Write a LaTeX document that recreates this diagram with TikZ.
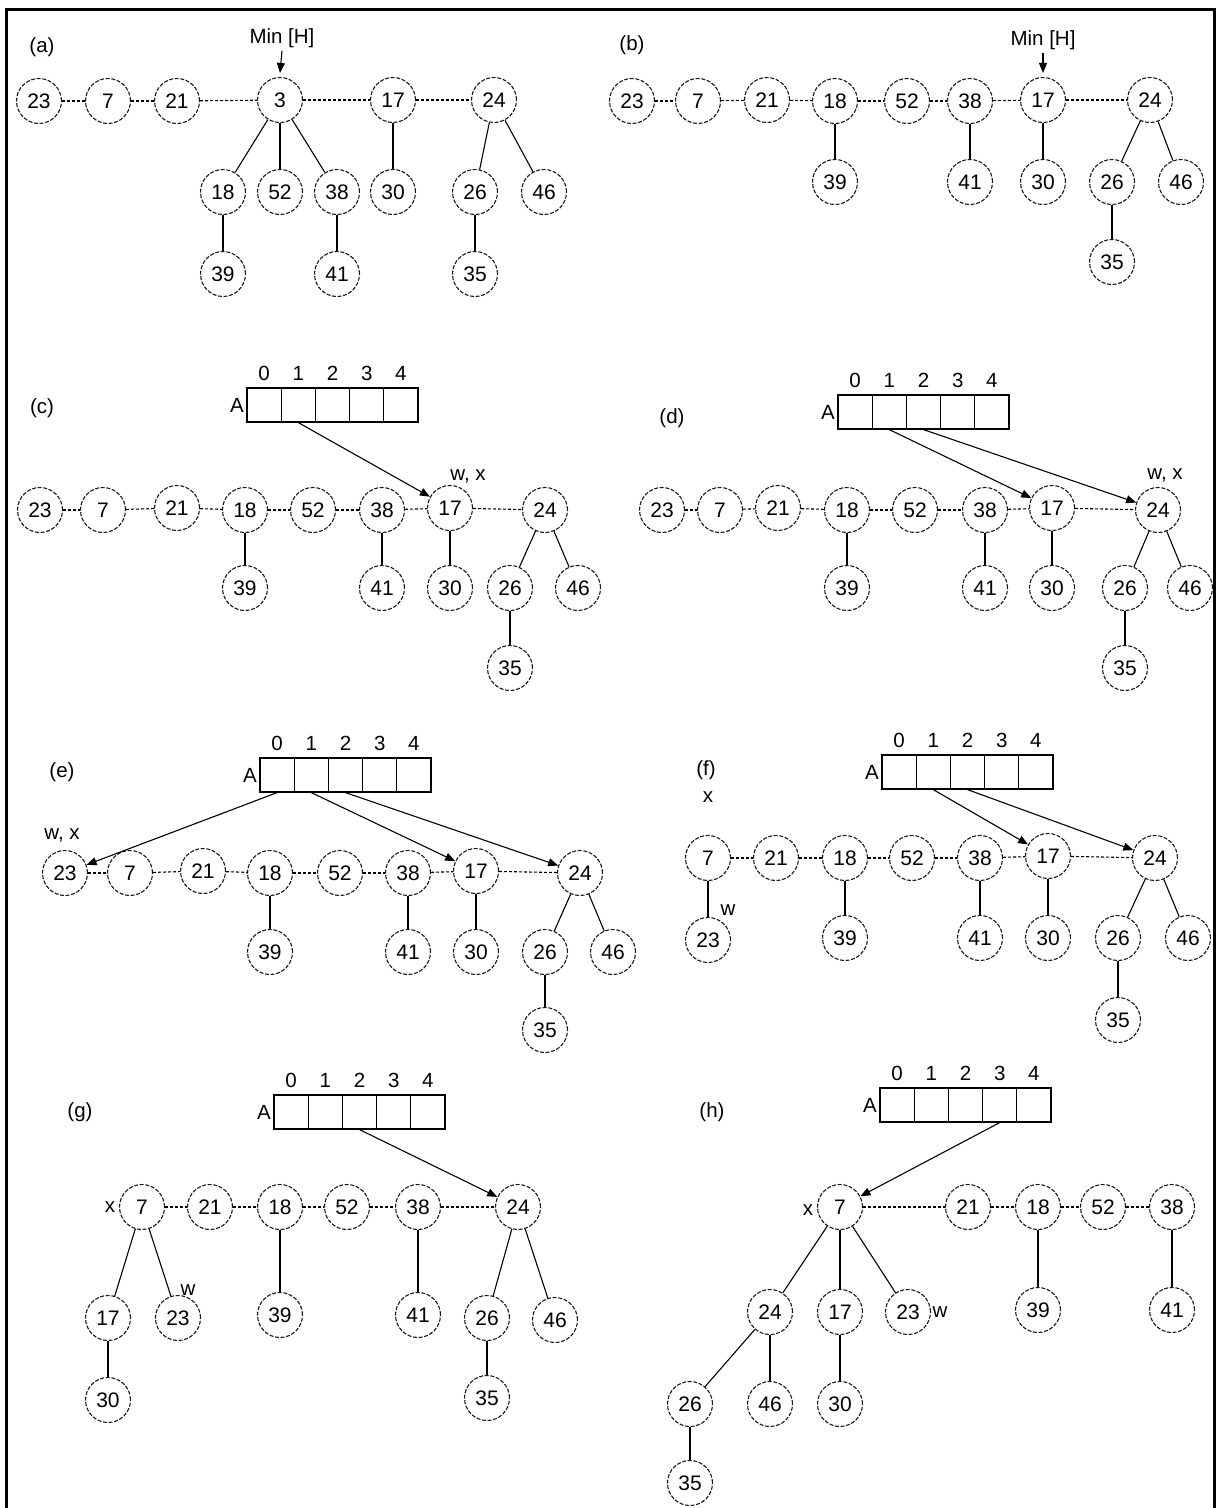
\documentclass[tikz,border=0pt]{standalone}
\usepackage{fontspec}
\setmainfont{Liberation Sans}
\usetikzlibrary{arrows.meta}
\newcommand\ArrayA[3]{% #1 prefix, #2 left x, #3 top y
  \node[txt,anchor=east] (#1A) at ({#2-3},{#3+17}) {A};
  \foreach \i in {0,...,4}{
    \node[cell] (#1c\i) at ({#2+17.1+34.2*\i},{#3+17}) {};
    \node[txt] (#1i\i) at ({#2+17.1+34.2*\i},{#3-15}) {\i};
  }}
\begin{document}
\begin{tikzpicture}[x=1pt,y=-1pt,
  nd/.style={circle,draw=black!90,line width=1.1pt,dash pattern=on 4pt off 1.6pt,minimum size=45pt,inner sep=0pt,font=\fontsize{21}{21}\selectfont},
  cell/.style={rectangle,draw,line width=1.2pt,minimum width=34.2pt,minimum height=34pt,inner sep=0pt},
  txt/.style={inner sep=0pt,font=\fontsize{20.5}{20.5}\selectfont},
  link/.style={dash pattern=on 3pt off 2pt,line width=1.1pt},
  edge/.style={line width=1.1pt},
  ptr/.style={line width=1.1pt,-{Triangle[length=10pt,width=8pt]}},
]
\useasboundingbox (0,0) rectangle (1216,1508);
\fill[white] (0,0) rectangle (1216,1508);
\draw[line width=3pt] (6,1510) -- (6,9) -- (1214,9) -- (1214,1510);

% ---------- (a)
\node[txt] (la) at (42,47) {(a)};
\node[txt] (amin) at (282,38) {Min [H]};
\foreach \n/\x/\y in {23/39/101,7/108/101,21/177/101,3/280/100,17/393/100,24/494/100,
  18/223/192,52/280/192,38/337/192,30/393/192,26/475/192,46/544/192,39/223/274,41/337/274,35/475/274}
  \node[nd] (a\n) at (\x,\y) {\n};
\draw[ptr] ([yshift=-3pt]amin.south) -- ([yshift=4pt]a3.north);
\draw[link] (a23) -- (a7); \draw[link] (a7) -- (a21); \draw[link] (a21) -- (a3);
\draw[link] (a3) -- (a17); \draw[link] (a17) -- (a24);
\foreach \p/\c in {3/18,3/52,3/38,17/30,24/26,24/46,18/39,38/41,26/35}
  \draw[edge] (a\p) -- (a\c);

% ---------- (b)
\node[txt] (lb) at (632,45) {(b)};
\node[txt] (bmin) at (1043,40) {Min [H]};
\foreach \n/\x/\y in {23/632/101,7/698/101,21/767/100,18/835/101,52/907/101,38/970/101,17/1043/100,24/1150/100,
  39/835/182,41/970/182,30/1043/182,26/1112/182,46/1181/182,35/1112/262}
  \node[nd] (b\n) at (\x,\y) {\n};
\draw[ptr] ([yshift=-3pt]bmin.south) -- ([yshift=4pt]b17.north);
\foreach \p/\c in {23/7,7/21,21/18,18/52,52/38,38/17,17/24}
  \draw[link] (b\p) -- (b\c);
\foreach \p/\c in {18/39,38/41,17/30,24/26,24/46,26/35}
  \draw[edge] (b\p) -- (b\c);

% ---------- (c)
\node[txt] (lc) at (42,408) {(c)};
\ArrayA{c}{247}{388}
\foreach \n/\x/\y in {23/40/510,7/103/510,21/177/508,18/245/510,52/313/510,38/382/510,17/450/508,24/545/510,
  39/245/588,41/382/588,30/450/588,26/510/588,46/578/588,35/510/668}
  \node[nd] (c\n) at (\x,\y) {\n};
\node[txt] (cwx) at (468,476) {w, x};
\foreach \p/\c in {23/7,7/21,21/18,18/52,52/38,38/17,17/24}
  \draw[link] (c\p) -- (c\c);
\foreach \p/\c in {18/39,38/41,17/30,24/26,24/46,26/35}
  \draw[edge] (c\p) -- (c\c);
\draw[ptr] (cc1.south) -- (c17);

% ---------- (d)
\node[txt] (ld) at (672,418) {(d)};
\ArrayA{d}{838}{395}
\foreach \n/\x/\y in {23/662/510,7/720/510,21/778/508,18/847/510,52/915/510,38/985/510,17/1052/508,24/1158/510,
  39/847/588,41/985/588,30/1052/588,26/1125/588,46/1190/588,35/1125/668}
  \node[nd] (d\n) at (\x,\y) {\n};
\node[txt] (dwx) at (1165,475) {w, x};
\foreach \p/\c in {23/7,7/21,21/18,18/52,52/38,38/17,17/24}
  \draw[link] (d\p) -- (d\c);
\foreach \p/\c in {18/39,38/41,17/30,24/26,24/46,26/35}
  \draw[edge] (d\p) -- (d\c);
\draw[ptr] (dc1.south) -- (d17);
\draw[ptr] (dc2.south) -- (d24);

% ---------- (e)
\node[txt] (le) at (62,772) {(e)};
\ArrayA{e}{260}{758}
\foreach \n/\x/\y in {23/65/873,7/130/873,21/203/871,18/270/873,52/340/873,38/408/873,17/476/871,24/580/873,
  39/270/952,41/408/952,30/476/952,26/545/952,46/613/952,35/545/1030}
  \node[nd] (e\n) at (\x,\y) {\n};
\node[txt] (ewx) at (62,835) {w, x};
\foreach \p/\c in {23/7,7/21,21/18,18/52,52/38,38/17,17/24}
  \draw[link] (e\p) -- (e\c);
\foreach \p/\c in {18/39,38/41,17/30,24/26,24/46,26/35}
  \draw[edge] (e\p) -- (e\c);
\draw[ptr] (ec0.south) -- (e23);
\draw[ptr] (ec1.south) -- (e17);
\draw[ptr] (ec2.south) -- (e24);

% ---------- (f)
\node[txt] (lf) at (706,770) {(f)};
\ArrayA{f}{882}{755}
\foreach \n/\x/\y in {7/708/858,21/776/858,18/845/858,52/912/858,38/980/858,17/1048/856,24/1155/858,
  23/708/940,39/845/938,41/980/938,30/1048/938,26/1118/938,46/1188/938,35/1118/1020}
  \node[nd] (f\n) at (\x,\y) {\n};
\node[txt] (fx) at (708,797) {x};
\node[txt] (fw) at (728,910) {w};
\foreach \p/\c in {7/21,21/18,18/52,52/38,38/17,17/24}
  \draw[link] (f\p) -- (f\c);
\foreach \p/\c in {7/23,18/39,38/41,17/30,24/26,24/46,26/35}
  \draw[edge] (f\p) -- (f\c);
\draw[ptr] (fc1.south) -- (f17);
\draw[ptr] (fc2.south) -- (f24);

% ---------- (g)
\node[txt] (lg) at (80,1112) {(g)};
\ArrayA{g}{274}{1095}
\foreach \n/\x/\y in {7/142/1207,21/210/1207,18/280/1207,52/347/1207,38/418/1207,24/518/1207,
  17/108/1318,23/178/1318,30/108/1400,39/280/1315,41/418/1315,26/487/1318,46/555/1320,35/487/1398}
  \node[nd] (g\n) at (\x,\y) {\n};
\node[txt] (gx) at (110,1207) {x};
\node[txt] (gw) at (188,1290) {w};
\foreach \p/\c in {7/21,21/18,18/52,52/38,38/24}
  \draw[link] (g\p) -- (g\c);
\foreach \p/\c in {7/17,7/23,17/30,18/39,38/41,24/26,24/46,26/35}
  \draw[edge] (g\p) -- (g\c);
\draw[ptr] (gc2.south) -- (g24);

% ---------- (h)
\node[txt] (lh) at (712,1112) {(h)};
\ArrayA{h}{880}{1088}
\foreach \n/\x/\y in {7/840/1207,21/968/1207,18/1038/1207,52/1103/1207,38/1172/1207,
  24/770/1312,17/840/1312,23/908/1312,26/690/1404,46/770/1404,30/840/1404,35/690/1483,39/1038/1310,41/1172/1310}
  \node[nd] (h\n) at (\x,\y) {\n};
\node[txt] (hx) at (808,1210) {x};
\node[txt] (hw) at (940,1312) {w};
\foreach \p/\c in {7/21,21/18,18/52,52/38}
  \draw[link] (h\p) -- (h\c);
\foreach \p/\c in {7/24,7/17,7/23,24/26,24/46,26/35,17/30,18/39,38/41}
  \draw[edge] (h\p) -- (h\c);
\draw[ptr] (hc3.south) -- (h7);
\end{tikzpicture}
\end{document}
